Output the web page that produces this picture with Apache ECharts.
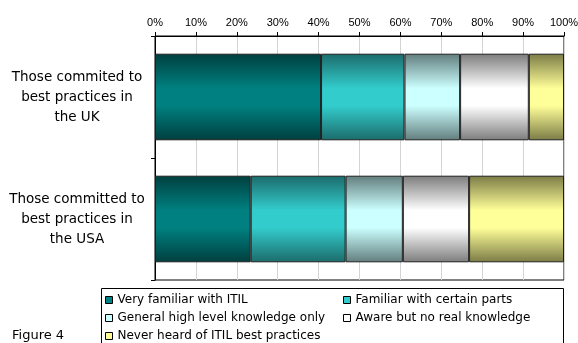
<!DOCTYPE html>
<html><head><meta charset="utf-8">
<script src="https://cdn.jsdelivr.net/npm/echarts@6/dist/echarts.min.js"></script>
<style>html,body{margin:0;padding:0;background:#fff}#c{width:578px;height:343px}</style>
</head><body><div id="c"></div>
<script>
var categories = ["Those commited to\nbest practices in\nthe UK", "Those committed to\nbest practices in\nthe USA"];
var seriesNames = ["Very familiar with ITIL", "Familiar with certain parts", "General high level knowledge only", "Aware but no real knowledge", "Never heard of ITIL best practices"];
var veryFamiliar = [40.6, 23.4];
var familiarParts = [20.4, 23.2];
var generalKnowledge = [13.6, 14.0];
var awareOnly = [16.8, 16.2];
var neverHeard = [8.6, 23.2];
var tickLabels = ["0%","10%","20%","30%","40%","50%","60%","70%","80%","90%","100%"];

var values = [veryFamiliar, familiarParts, generalKnowledge, awareOnly, neverHeard];
var lights = ["#008080", "#33CCCC", "#CCFFFF", "#FFFFFF", "#FFFF99"];
var darks = ["#003f3f", "#1c6b6b", "#627d7d", "#7c7c7c", "#7b7b46"];

var font = "Arial, 'Liberation Sans', sans-serif";
var wideFont = "'DejaVu Sans', sans-serif";
var chart = echarts.init(document.getElementById('c'));
var series = seriesNames.map(function (n, i) {
  return {
    name: n, type: 'bar', stack: 'all', barWidth: '71%',
    data: values[i],
    itemStyle: {
      color: new echarts.graphic.LinearGradient(0, 0, 0, 1, [
        {offset: 0, color: darks[i]}, {offset: 0.4, color: lights[i]},
        {offset: 0.6, color: lights[i]}, {offset: 1, color: darks[i]}
      ]),
      borderColor: '#1e1e1e', borderWidth: 1
    }
  };
});
// legend slots: [series index, left, top]
var legendSlots = [[0, 105, 293], [1, 343, 293], [2, 105, 311], [3, 343, 311], [4, 105, 329]];
var legends = legendSlots.map(function (s) {
  var i = s[0];
  return {
    orient: 'horizontal', left: s[1], top: s[2], itemWidth: 7, itemHeight: 7, icon: 'rect',
    padding: 0,
    textStyle: {fontSize: 12, fontFamily: wideFont, color: '#000', lineHeight: 14},
    data: [{name: seriesNames[i], itemStyle: {color: lights[i], borderColor: '#000', borderWidth: 1}}]
  };
});
chart.setOption({
  animation: false,
  backgroundColor: '#fff',
  grid: {left: 155, right: 14, top: 36, bottom: 63, show: true, borderColor: '#000', borderWidth: 1,
         containLabel: false, outerBoundsMode: 'none'},
  xAxis: {
    type: 'value', position: 'top', min: 0, max: 100, interval: 10,
    axisLine: {show: true, lineStyle: {color: '#000'}},
    axisTick: {show: true, length: 4, lineStyle: {color: '#000'}},
    axisLabel: {formatter: function (v) { return tickLabels[Math.round(v / 10)]; }, color: '#000', fontSize: 11, fontFamily: font, margin: 8},
    splitLine: {show: true, lineStyle: {color: '#d4d4d4'}}
  },
  yAxis: {
    type: 'category', data: categories, inverse: true,
    axisLine: {show: true, lineStyle: {color: '#000'}},
    axisTick: {show: true, length: 4, lineStyle: {color: '#000'}},
    axisLabel: {align: 'center', margin: 78, color: '#000', fontSize: 13.5, lineHeight: 20, fontFamily: wideFont, padding: [5, 0, 0, 0]}
  },
  legend: legends,
  graphic: [
    {type: 'rect', shape: {x: 101.5, y: 288.5, width: 462, height: 70}, style: {fill: null, stroke: '#000', lineWidth: 1}, silent: true},
    {type: 'text', left: 12, top: 329, style: {text: 'Figure 4', font: '13px ' + wideFont, fill: '#000'}}
  ],
  series: series
});
</script></body></html>
